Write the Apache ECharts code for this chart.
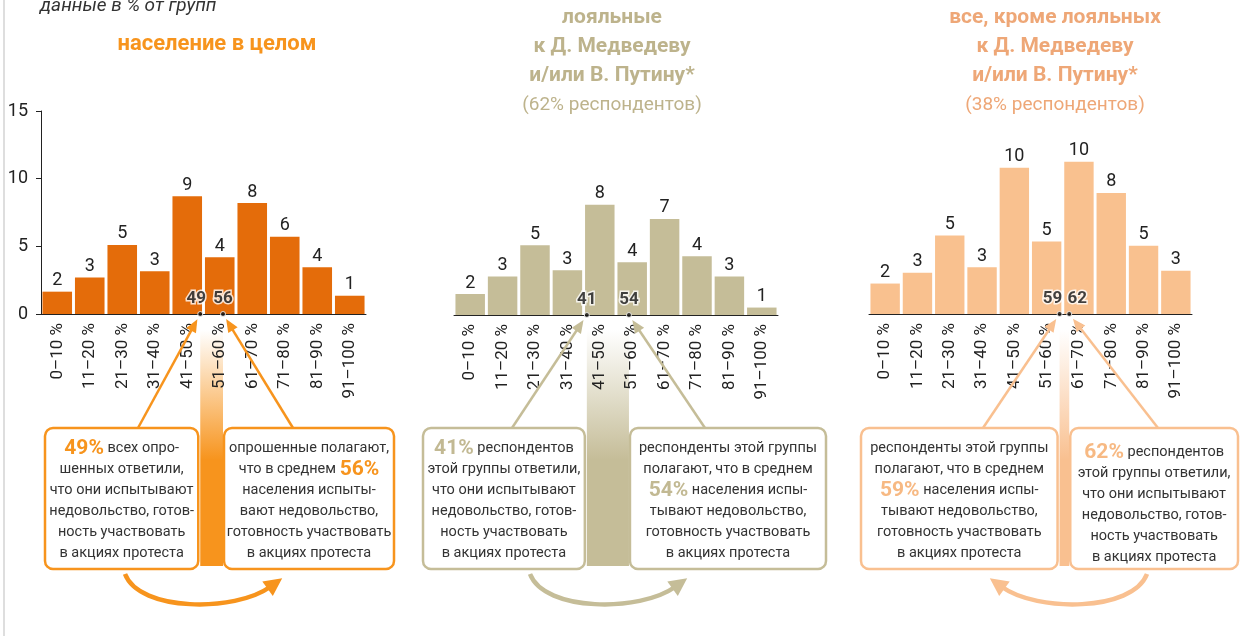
<!DOCTYPE html>
<html>
<head>
<meta charset="utf-8">
<script src="https://cdn.jsdelivr.net/npm/echarts@6/dist/echarts.min.js"></script>
<style>
html, body { margin: 0; padding: 0; background: #fff; }
#main { width: 1240px; height: 636px; }
</style>
</head>
<body>
<div id="main"></div>
<script>
// оценка доли недовольных, данные в % от групп
var categories = ['0–10 %', '11–20 %', '21–30 %', '31–40 %', '41–50 %', '51–60 %', '61–70 %', '71–80 %', '81–90 %', '91–100 %'];
var yTicks = [0, 5, 10, 15];

// население в целом
var allValues = [1.65, 2.7, 5.1, 3.15, 8.7, 4.2, 8.2, 5.7, 3.45, 1.35];
var allLabels = [2, 3, 5, 3, 9, 4, 8, 6, 4, 1];
var allMarks = [49, 56];

// лояльные к Д. Медведеву и/или В. Путину
var loyalValues = [1.55, 2.85, 5.15, 3.3, 8.15, 3.9, 7.1, 4.35, 2.85, 0.55];
var loyalLabels = [2, 3, 5, 3, 8, 4, 7, 4, 3, 1];
var loyalMarks = [41, 54];

// все, кроме лояльных
var otherValues = [2.25, 3.05, 5.8, 3.45, 10.8, 5.35, 11.25, 8.95, 5.05, 3.2];
var otherLabels = [2, 3, 5, 3, 10, 5, 10, 8, 5, 3];
var otherMarks = [59, 62];

var FONT = 'Roboto, "Noto Sans", sans-serif';

var panels = [
  {
    values: allValues, labels: allLabels, marks: allMarks,
    bar: '#e46c0a', accent: '#f7941d', pct: '#f7941d',
    grid: { left: 41, top: 111, width: 325, height: 203 },
    markOffsets: [[-4, 0], [0, 0]],
    boxLeft: 45, boxRight: 394, textDy: [0, 0],
    arrowStarts: [138, 293],
    curve: [125, 270],
    leftText: ['{p|49%} всех опро-', 'шенных ответили,', 'что они испытывают', 'недовольство, готов-', 'ность участвовать', 'в акциях протеста'],
    rightText: ['опрошенные полагают,', 'что в среднем {p|56%}', 'населения испыты-', 'вают недовольство,', 'готовность участвовать', 'в акциях протеста']
  },
  {
    values: loyalValues, labels: loyalLabels, marks: loyalMarks,
    bar: '#c5bd98', accent: '#c5bd98', pct: '#c2b993',
    grid: { left: 454, top: 112, width: 324, height: 203 },
    markOffsets: [[0, 0], [0, 0]],
    boxLeft: 423, boxRight: 826, textDy: [0, 0],
    arrowStarts: [512, 705],
    curve: [530, 675],
    leftText: ['{p|41%} респондентов', 'этой группы ответили,', 'что они испытывают', 'недовольство, готов-', 'ность участвовать', 'в акциях протеста'],
    rightText: ['респонденты этой группы', 'полагают, что в среднем', '{p|54%} населения испы-', 'тывают недовольство,', 'готовность участвовать', 'в акциях протеста']
  },
  {
    values: otherValues, labels: otherLabels, marks: otherMarks,
    bar: '#f9c18f', accent: '#f9c090', pct: '#f7b983',
    grid: { left: 869, top: 111, width: 323, height: 203 },
    markOffsets: [[-7, 0], [8, 0]],
    boxLeft: 861, boxRight: 1238, textDy: [0, 4],
    arrowStarts: [983, 1158],
    curve: [1147, 1002],
    leftText: ['респонденты этой группы', 'полагают, что в среднем', '{p|59%} населения испы-', 'тывают недовольство,', 'готовность участвовать', 'в акциях протеста'],
    rightText: ['{p|62%} респондентов', 'этой группы ответили,', 'что они испытывают', 'недовольство, готов-', 'ность участвовать', 'в акциях протеста']
  }
];

var chart = echarts.init(document.getElementById('main'));

var grids = [], xAxes = [], yAxes = [], series = [];
panels.forEach(function (p, i) {
  grids.push(p.grid);
  xAxes.push({
    type: 'category', gridIndex: i, data: categories,
    axisLine: { lineStyle: { color: '#222', width: 1 } },
    axisTick: { length: 5, lineStyle: { color: '#222' } },
    axisLabel: { rotate: 90, margin: 9, fontSize: 17, color: '#222', fontFamily: FONT }
  });
  xAxes.push({ type: 'value', gridIndex: i, min: 0, max: 100, show: false });
  yAxes.push({
    type: 'value', gridIndex: i, min: yTicks[0], max: yTicks[yTicks.length - 1], interval: 5,
    show: i === 0,
    splitLine: { show: false },
    axisLine: { show: true, lineStyle: { color: '#222' } },
    axisTick: { show: true, length: 5, lineStyle: { color: '#222' } },
    axisLabel: { margin: 13, fontSize: 18, color: '#222', fontFamily: FONT }
  });
  series.push({
    type: 'bar', xAxisIndex: i * 2, yAxisIndex: i,
    data: p.values, barCategoryGap: '9%',
    itemStyle: { color: p.bar },
    label: {
      show: true, position: 'top', distance: 2,
      fontSize: 18, color: '#222', fontFamily: FONT,
      formatter: function (prm) { return String(p.labels[prm.dataIndex]); }
    },
    z: 2
  });
  series.push({
    type: 'scatter', xAxisIndex: i * 2 + 1, yAxisIndex: i,
    data: p.marks.map(function (m, k) {
      return {
        value: [m, 0],
        label: { offset: p.markOffsets[k] }
      };
    }),
    symbolSize: 5,
    itemStyle: { color: '#111', borderColor: '#fff', borderWidth: 1 },
    label: {
      show: true, position: 'top', distance: 4,
      fontSize: 17, fontWeight: 'bold', color: '#111', fontFamily: FONT,
      textBorderColor: '#fff', textBorderWidth: 3,
      formatter: function (prm) { return String(prm.value[0]); }
    },
    z: 5
  });
});

chart.setOption({
  animation: false,
  backgroundColor: '#fff',
  grid: grids,
  xAxis: xAxes,
  yAxis: yAxes,
  series: series
});

function unit(dx, dy) {
  var l = Math.sqrt(dx * dx + dy * dy);
  return [dx / l, dy / l];
}
function headPoints(tip, d, len, half) {
  var bx = tip[0] - d[0] * len, by = tip[1] - d[1] * len;
  return [[tip[0], tip[1]], [bx - d[1] * half, by + d[0] * half], [bx + d[1] * half, by - d[0] * half]];
}
function hexRgba(hex, a) {
  var n = parseInt(hex.slice(1), 16);
  return 'rgba(' + (n >> 16) + ',' + ((n >> 8) & 255) + ',' + (n & 255) + ',' + a + ')';
}

var graphics = [];
graphics.push({ type: 'line', shape: { x1: 4, y1: 0, x2: 4, y2: 636 }, style: { stroke: '#dedede', lineWidth: 2 } });
graphics.push({
  type: 'text', x: 40, y: 16,
  style: { text: 'данные в % от групп', font: 'italic 19px ' + FONT, fill: '#333', verticalAlign: 'bottom' }
});
graphics.push({
  type: 'text', x: 217, y: 44,
  style: { text: 'население в целом', font: 'bold 22px ' + FONT, fill: '#f7941d', align: 'center', verticalAlign: 'middle' }
});
[[612, '#bdb38c', 'лояльные', '(62% респондентов)'], [1055, '#eea777', 'все, кроме лояльных', '(38% респондентов)']].forEach(function (t) {
  var lines = [t[2], 'к Д. Медведеву', 'и/или В. Путину*'];
  lines.forEach(function (s, k) {
    graphics.push({
      type: 'text', x: t[0], y: 18 + k * 29,
      style: { text: s, font: 'bold 21px ' + FONT, fill: t[1], align: 'center', verticalAlign: 'middle' }
    });
  });
  graphics.push({
    type: 'text', x: t[0], y: 105,
    style: { text: t[3], font: '19px ' + FONT, fill: t[1], align: 'center', verticalAlign: 'middle' }
  });
});

var BOX_TOP = 428, BOX_H = 141;
panels.forEach(function (p, i) {
  var sIdx = i * 2 + 1;
  var d1 = chart.convertToPixel({ seriesIndex: sIdx }, [p.marks[0], 0]);
  var d2 = chart.convertToPixel({ seriesIndex: sIdx }, [p.marks[1], 0]);

  // полоса между средними
  graphics.push({
    type: 'rect', z: -1,
    shape: { x: d1[0], y: 330, width: Math.max(d2[0] - d1[0], 2), height: 236 },
    style: {
      fill: new echarts.graphic.LinearGradient(0, 0, 0, 1, [
        { offset: 0, color: hexRgba(p.accent, 0) },
        { offset: 0.55, color: hexRgba(p.accent, 1) },
        { offset: 1, color: hexRgba(p.accent, 1) }
      ])
    }
  });

  // рамки
  var lw = d1[0] - 2 - p.boxLeft;
  var rx = d2[0] + 1;
  var rw = p.boxRight - rx;
  [[p.boxLeft, lw, p.leftText, p.textDy[0]], [rx, rw, p.rightText, p.textDy[1]]].forEach(function (b) {
    graphics.push({
      type: 'rect', z: 3,
      shape: { x: b[0], y: BOX_TOP, width: b[1], height: BOX_H, r: 8 },
      style: { fill: '#fff', stroke: p.accent, lineWidth: 2.5 }
    });
    graphics.push({
      type: 'text', z: 4, x: b[0] + b[1] / 2, y: BOX_TOP + 10 + b[3],
      style: {
        text: b[2].join('\n'),
        font: '14.5px ' + FONT, fill: '#333',
        align: 'center', verticalAlign: 'top', lineHeight: 21,
        rich: { p: { font: 'bold 21px ' + FONT, fill: p.pct, lineHeight: 21 } }
      }
    });
  });

  // стрелки к средним
  [[p.arrowStarts[0], d1], [p.arrowStarts[1], d2]].forEach(function (a) {
    var s = [a[0], BOX_TOP];
    var d = unit(a[1][0] - s[0], a[1][1] - s[1]);
    var tip = [a[1][0] - d[0] * 6, a[1][1] - d[1] * 6];
    graphics.push({
      type: 'line', z: 3,
      shape: { x1: s[0], y1: s[1], x2: tip[0] - d[0] * 9, y2: tip[1] - d[1] * 9 },
      style: { stroke: p.accent, lineWidth: 2.5 }
    });
    graphics.push({
      type: 'polygon', z: 3,
      shape: { points: headPoints(tip, d, 13, 5.5) },
      style: { fill: p.accent }
    });
  });

  // дуга
  var a0 = p.curve[0], b0 = p.curve[1], span = b0 - a0;
  var c2 = [b0 - span * 0.24, 612];
  var end = [b0, 587];
  graphics.push({
    type: 'bezierCurve', z: 3,
    shape: { x1: a0, y1: 574, cpx1: a0 + span * 0.1, cpy1: 612, cpx2: c2[0], cpy2: c2[1], x2: end[0], y2: end[1] },
    style: { stroke: p.accent, lineWidth: 4.5, fill: null }
  });
  var dc = unit(end[0] - c2[0], end[1] - c2[1]);
  graphics.push({
    type: 'polygon', z: 3,
    shape: { points: headPoints([end[0] + dc[0] * 15, end[1] + dc[1] * 15], dc, 18, 9) },
    style: { fill: p.accent }
  });
});

chart.setOption({ graphic: graphics });
</script>
</body>
</html>
